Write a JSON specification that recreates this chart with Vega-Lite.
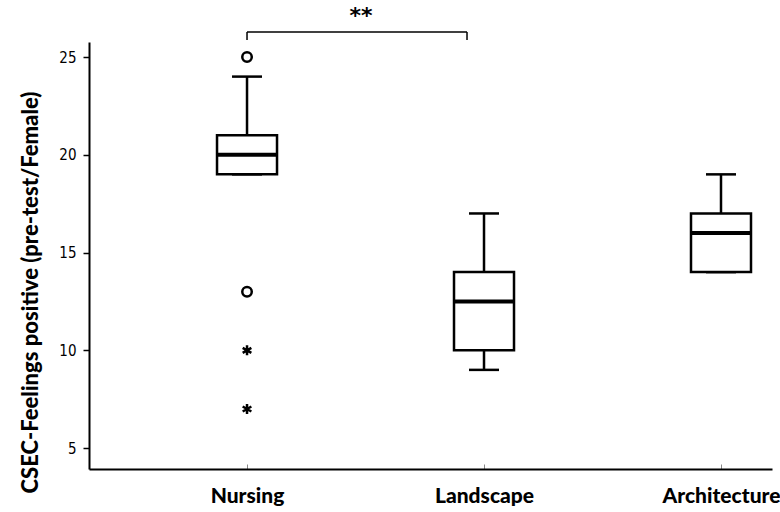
{
  "$schema": "https://vega.github.io/schema/vega-lite/v6.json",
  "width": 683,
  "height": 427,
  "autosize": {"type": "none"},
  "padding": {"left": 89, "top": 42, "right": 8, "bottom": 43},
  "background": "white",
  "config": {
    "view": {"stroke": null},
    "axis": {"grid": false, "domainColor": "black", "domainWidth": 2, "labelColor": "black", "titleColor": "black"}
  },
  "datasets": {
    "boxes": [
      {"group": "Nursing", "lower": 19, "q1": 19, "median": 20, "q3": 21, "upper": 24},
      {"group": "Landscape", "lower": 9, "q1": 10, "median": 12.5, "q3": 14, "upper": 17},
      {"group": "Architecture", "lower": 14, "q1": 14, "median": 16, "q3": 17, "upper": 19}
    ],
    "outliers": [
      {"group": "Nursing", "value": 25, "kind": "circle"},
      {"group": "Nursing", "value": 13, "kind": "circle"},
      {"group": "Nursing", "value": 10, "kind": "extreme"},
      {"group": "Nursing", "value": 7, "kind": "extreme"}
    ],
    "bracket": [
      {"from": "Nursing", "to": "Landscape", "top": 26.28, "bottom": 25.87, "labelY": 27.1, "label": "**"}
    ]
  },
  "encoding": {
    "x": {
      "field": "group",
      "type": "nominal",
      "sort": ["Nursing", "Landscape", "Architecture"],
      "scale": {"type": "point", "domain": ["Nursing", "Landscape", "Architecture"], "padding": 0.441, "align": 0.756},
      "axis": {"title": null, "labelAngle": 0, "labelFont": "Lato", "labelFontWeight": 900, "labelFontSize": 21, "labelPadding": 21, "labelOverlap": false, "labelBound": false, "tickSize": -5, "tickColor": "#888888", "tickWidth": 1}
    }
  },
  "layer": [
    {
      "data": {"name": "boxes"},
      "mark": {"type": "rule", "color": "black", "strokeWidth": 2.5},
      "encoding": {
        "y": {"field": "lower", "type": "quantitative",
          "scale": {"domain": [3.93, 25.77], "nice": false, "zero": false},
          "axis": {"title": "CSEC-Feelings positive (pre-test/Female)", "values": [5, 10, 15, 20, 25], "titleFont": "Lato", "titleFontWeight": 900, "titleFontSize": 22, "titlePadding": 16, "titleY": 250, "labelFont": "DejaVu Sans Condensed", "labelFontSize": 15, "labelPadding": 7, "tickSize": 6, "tickColor": "black", "tickWidth": 1.5}},
        "y2": {"field": "upper"}
      }
    },
    {
      "data": {"name": "boxes"},
      "mark": {"type": "tick", "color": "black", "opacity": 1, "thickness": 2.5, "size": 30},
      "encoding": {"y": {"field": "upper", "type": "quantitative"}}
    },
    {
      "data": {"name": "boxes"},
      "mark": {"type": "tick", "color": "black", "opacity": 1, "thickness": 2.5, "size": 30},
      "encoding": {"y": {"field": "lower", "type": "quantitative"}}
    },
    {
      "data": {"name": "boxes"},
      "mark": {"type": "bar", "fill": "white", "stroke": "black", "strokeWidth": 2.5, "size": 60},
      "encoding": {"y": {"field": "q1", "type": "quantitative"}, "y2": {"field": "q3"}}
    },
    {
      "data": {"name": "boxes"},
      "mark": {"type": "tick", "color": "black", "opacity": 1, "thickness": 4, "size": 60},
      "encoding": {"y": {"field": "median", "type": "quantitative"}}
    },
    {
      "data": {"name": "outliers"},
      "transform": [{"filter": "datum.kind === 'circle'"}],
      "mark": {"type": "point", "shape": "circle", "filled": false, "stroke": "black", "strokeWidth": 2.5, "size": 90, "opacity": 1},
      "encoding": {"y": {"field": "value", "type": "quantitative"}}
    },
    {
      "data": {"name": "outliers"},
      "transform": [{"filter": "datum.kind === 'extreme'"}],
      "mark": {"type": "point", "shape": "M0,-1L0,1M-0.87,-0.5L0.87,0.5M-0.87,0.5L0.87,-0.5", "filled": false, "stroke": "black", "strokeWidth": 2.5, "size": 100, "opacity": 1},
      "encoding": {"y": {"field": "value", "type": "quantitative"}}
    },
    {
      "data": {"name": "bracket"},
      "mark": {"type": "rule", "color": "black", "strokeWidth": 1.5, "x2Offset": -17},
      "encoding": {"x": {"field": "from", "type": "nominal"}, "x2": {"field": "to"}, "y": {"field": "top", "type": "quantitative"}}
    },
    {
      "data": {"name": "bracket"},
      "mark": {"type": "rule", "color": "black", "strokeWidth": 1.5},
      "encoding": {"x": {"field": "from", "type": "nominal"}, "y": {"field": "bottom", "type": "quantitative"}, "y2": {"field": "top"}}
    },
    {
      "data": {"name": "bracket"},
      "mark": {"type": "rule", "color": "black", "strokeWidth": 1.5, "xOffset": -17},
      "encoding": {"x": {"field": "to", "type": "nominal"}, "y": {"field": "bottom", "type": "quantitative"}, "y2": {"field": "top"}}
    },
    {
      "data": {"name": "bracket"},
      "mark": {"type": "text", "color": "black", "font": "DejaVu Sans", "fontWeight": "bold", "fontSize": 22, "dx": 114, "baseline": "middle", "align": "center"},
      "encoding": {"x": {"field": "from", "type": "nominal"}, "y": {"field": "labelY", "type": "quantitative"}, "text": {"field": "label"}}
    }
  ]
}
